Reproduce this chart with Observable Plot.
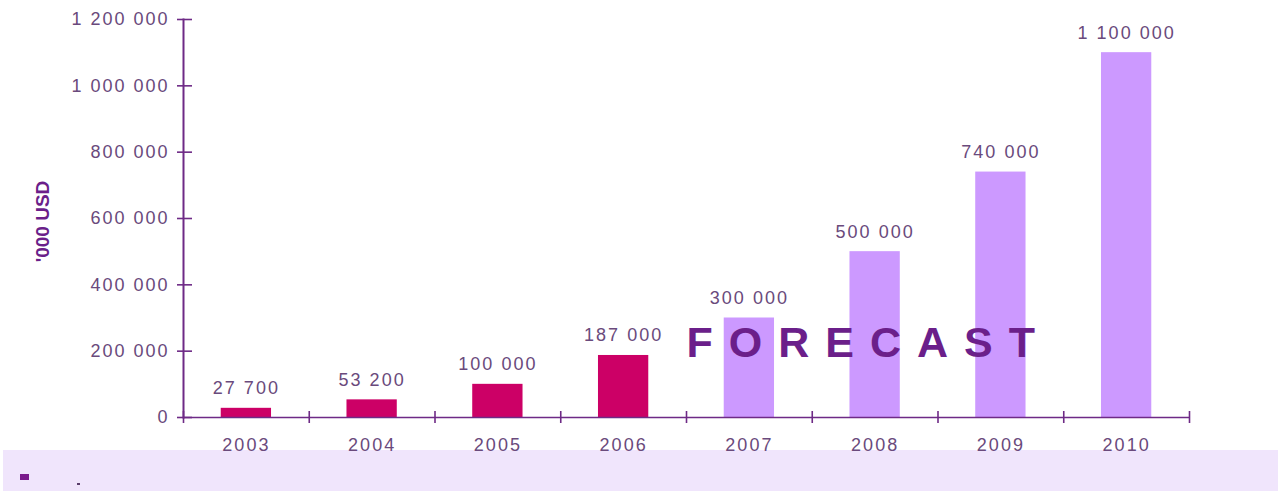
<!DOCTYPE html>
<html>
<head>
<meta charset="utf-8">
<script src="https://cdn.jsdelivr.net/npm/d3@7"></script>
<script src="https://cdn.jsdelivr.net/npm/@observablehq/plot@0.6"></script>
<style>
  html, body { margin: 0; padding: 0; background: #ffffff; }
  #chart { position: relative; width: 1278px; }
  #chart svg { position: relative; z-index: 1; display: block; }
  #chart svg text { letter-spacing: 2px; }
  #legend { position: relative; z-index: 0; margin-left: 3px; height: 41px; background: #f0e5fc; }
  #legend .sw { position: absolute; left: 17px; top: 24px; width: 9px; height: 6px; background: #7a1a8c; }
  #legend .dot { position: absolute; left: 74px; top: 33px; width: 3px; height: 2px; background: #5a3d6b; }
</style>
</head>
<body>
<div id="chart"></div>
<script>
const years = ["2003", "2004", "2005", "2006", "2007", "2008", "2009", "2010"];
const values = [27700, 53200, 100000, 187000, 300000, 500000, 740000, 1100000];
const phase = ["actual", "actual", "actual", "actual", "forecast", "forecast", "forecast", "forecast"];
const yTicks = [0, 200000, 400000, 600000, 800000, 1000000, 1200000];
const yLabel = "'000 USD";
const forecastLabel = "FORECAST";

const data = years.map((y, i) => ({year: y, value: values[i], phase: phase[i]}));
const fmt = d => d3.format(",")(d).replace(/,/g, " ");

const W = 1278, H = 450, ML = 183, MR = 89, MT = 19, MB = 33;
const step = (W - ML - MR) / years.length;
const axisColor = "#6e2a86";
const textColor = "#6a4a7c";
const font = "'Liberation Sans', Arial, sans-serif";

const plot = Plot.plot({
  width: W,
  height: H,
  marginLeft: ML,
  marginRight: MR,
  marginTop: MT,
  marginBottom: MB,
  style: {background: "transparent", overflow: "visible", fontFamily: font, fontSize: "18px", color: textColor},
  x: {domain: years, paddingInner: 0.6, paddingOuter: 0.3, round: false},
  y: {domain: [0, 1200000]},
  color: {domain: ["actual", "forecast"], range: ["#cc0066", "#cc99ff"]},
  marks: [
    Plot.barY(data, {x: "year", y: "value", fill: "phase"}),
    Plot.frame({anchor: "left", stroke: axisColor, strokeWidth: 2, strokeOpacity: 1}),
    Plot.ruleY([0], {stroke: axisColor, strokeWidth: 1.6}),
    Plot.ruleX(years, {x: d => d, dx: -step / 2, stroke: axisColor, strokeWidth: 1.6, insetTop: (H - MT - MB) - 6, insetBottom: -6}),
    Plot.ruleX([years[years.length - 1]], {x: d => d, dx: step / 2, stroke: axisColor, strokeWidth: 1.6, insetTop: (H - MT - MB) - 6, insetBottom: -6}),
    Plot.axisY({ticks: yTicks, tickSize: 15, dx: 9, tickPadding: 8, tickFormat: fmt, stroke: axisColor, strokeWidth: 1.6, strokeOpacity: 1, fill: textColor, fontSize: 18, label: null}),
    Plot.axisX({tickSize: 0, tickPadding: 21, fill: textColor, fontSize: 18, label: null}),
    Plot.text(data, {x: "year", y: "value", text: d => fmt(d.value), lineAnchor: "bottom", dy: -14, fill: textColor, fontSize: 18}),
    Plot.text([forecastLabel], {frameAnchor: "bottom", textAnchor: "start", lineAnchor: "middle", dy: -74, fill: "#6b1f8a", fontSize: 43, fontWeight: "bold"}),
    Plot.text([yLabel], {frameAnchor: "left", textAnchor: "middle", lineAnchor: "middle", dx: 42 - ML, dy: 3, rotate: -90, fill: "#6b1f8a", fontSize: 19, fontWeight: "bold"})
  ]
});

d3.select(plot).selectAll("text").filter(function() { return this.textContent === forecastLabel; }).style("letter-spacing", "16px");
d3.select(plot).selectAll("text").filter(function() { return this.textContent === yLabel; }).style("letter-spacing", "0px");

const chart = document.getElementById("chart");
chart.appendChild(plot);
const legend = document.createElement("div");
legend.id = "legend";
legend.innerHTML = '<span class="sw"></span><span class="dot"></span>';
chart.appendChild(legend);
</script>
</body>
</html>
